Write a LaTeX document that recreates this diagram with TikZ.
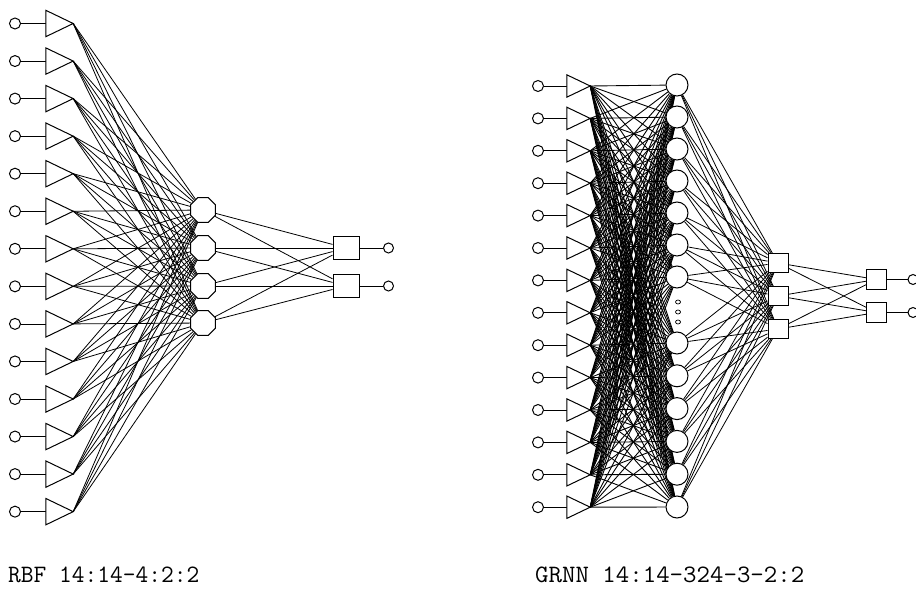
\documentclass[tikz,border=0pt]{standalone}
\usetikzlibrary{shapes.geometric}
\pgfdeclarelayer{bg}
\pgfsetlayers{bg,main}
\begin{document}
\begin{tikzpicture}[x=1pt,y=-1pt,
  conn/.style={line width=0.8pt},
  gconn/.style={line width=0.9pt},
  shp/.style={line width=1pt},
  incirc/.style={circle, draw, shp, fill=white, minimum size=11pt, inner sep=0},
  outcirc/.style={circle, draw, shp, fill=white, minimum size=10pt, inner sep=0},
  tribox/.style={rectangle, inner sep=0},
  octnode/.style={regular polygon, regular polygon sides=8, draw, shp, fill=white, minimum size=27pt, inner sep=0},
  patnode/.style={circle, draw, shp, fill=white, minimum size=22pt, inner sep=0},
  sqnode/.style={rectangle, draw, shp, fill=white, inner sep=0},
  dotnode/.style={ellipse, draw, line width=0.7pt, minimum width=5pt, minimum height=4pt, inner sep=0},
  lbl/.style={anchor=base west, inner sep=0, font=\fontsize{25}{25}\selectfont\ttfamily}
]
\clip (0,0) rectangle (916,591);
\useasboundingbox (0,0) rectangle (916,591);

% ---------------- RBF ----------------
\foreach \i in {1,...,14}{
  \pgfmathsetmacro\yy{23.5+37.55*(\i-1)}
  \node[incirc] (ra\i) at (15,\yy) {};
  \node[tribox, minimum width=27pt, minimum height=26pt] (rt\i) at (59.5,\yy) {};
}
\foreach \y [count=\j] in {210,248,286,323}{
  \node[octnode] (rh\j) at (203,\y) {};
}
\foreach \y [count=\k] in {248,286}{
  \node[sqnode, minimum width=26pt, minimum height=23.5pt] (ro\k) at (346,\y) {};
  \node[outcirc] (rc\k) at (388.5,\y) {};
}
\foreach \i in {1,...,14}{
  \filldraw[shp, fill=white] (rt\i.north west) -- (rt\i.east) -- (rt\i.south west) -- cycle;
}

% ---------------- GRNN ----------------
\foreach \i in {1,...,14}{
  \pgfmathsetmacro\yy{86+32.4*(\i-1)}
  \node[incirc] (ga\i) at (538,\yy) {};
  \node[tribox, minimum width=23pt, minimum height=22pt] (gt\i) at (578.5,\yy) {};
}
\foreach \y [count=\j] in {85,117,149,181,213,245,277,343,375.8,408.6,441.4,474.2,507}{
  \node[patnode] (gp\j) at (677,\y) {};
}
\foreach \y [count=\j] in {302,312,322}{
  \node[dotnode] (gd\j) at (678,\y) {};
}
\foreach \y [count=\k] in {263,296,329}{
  \node[sqnode, minimum width=20pt, minimum height=19pt] (gs\k) at (778,\y) {};
}
\foreach \y [count=\k] in {279.5,312.5}{
  \node[sqnode, minimum width=19.5pt, minimum height=20pt] (go\k) at (876.5,\y) {};
  \node[outcirc] (gc\k) at (913,\y) {};
}
\foreach \i in {1,...,14}{
  \filldraw[shp, fill=white] (gt\i.north west) -- (gt\i.east) -- (gt\i.south west) -- cycle;
}

% ---------------- connectors ----------------
\begin{pgfonlayer}{bg}
\foreach \i in {1,...,14}{
  \draw[conn] (ra\i) -- (rt\i.west);
  \foreach \j in {1,...,4}{ \draw[conn] (rt\i.east) -- (rh\j); }
}
\foreach \j in {1,...,4}{
  \foreach \k in {1,2}{ \draw[conn] (rh\j) -- (ro\k); }
}
\foreach \k in {1,2}{ \draw[conn] (ro\k) -- (rc\k); }

\foreach \i in {1,...,14}{
  \draw[conn] (ga\i) -- (gt\i.west);
  \foreach \j in {1,...,13}{ \draw[gconn] (gt\i.east) -- (gp\j); }
}
\foreach \j in {1,...,13}{
  \foreach \k in {1,2,3}{ \draw[conn] (gp\j) -- (gs\k); }
}
\foreach \k in {1,2,3}{
  \foreach \m in {1,2}{ \draw[conn] (gs\k) -- (go\m); }
}
\foreach \m in {1,2}{ \draw[conn] (go\m) -- (gc\m); }
\end{pgfonlayer}

% ---------------- labels ----------------
\node[lbl] (lblrbf) at (8,582) {\scalebox{0.99}[1]{RBF 14:14-4:2:2}};
\node[lbl] (lblgrnn) at (535,582) {\scalebox{1.045}[1]{GRNN 14:14-324-3-2:2}};
\end{tikzpicture}
\end{document}
